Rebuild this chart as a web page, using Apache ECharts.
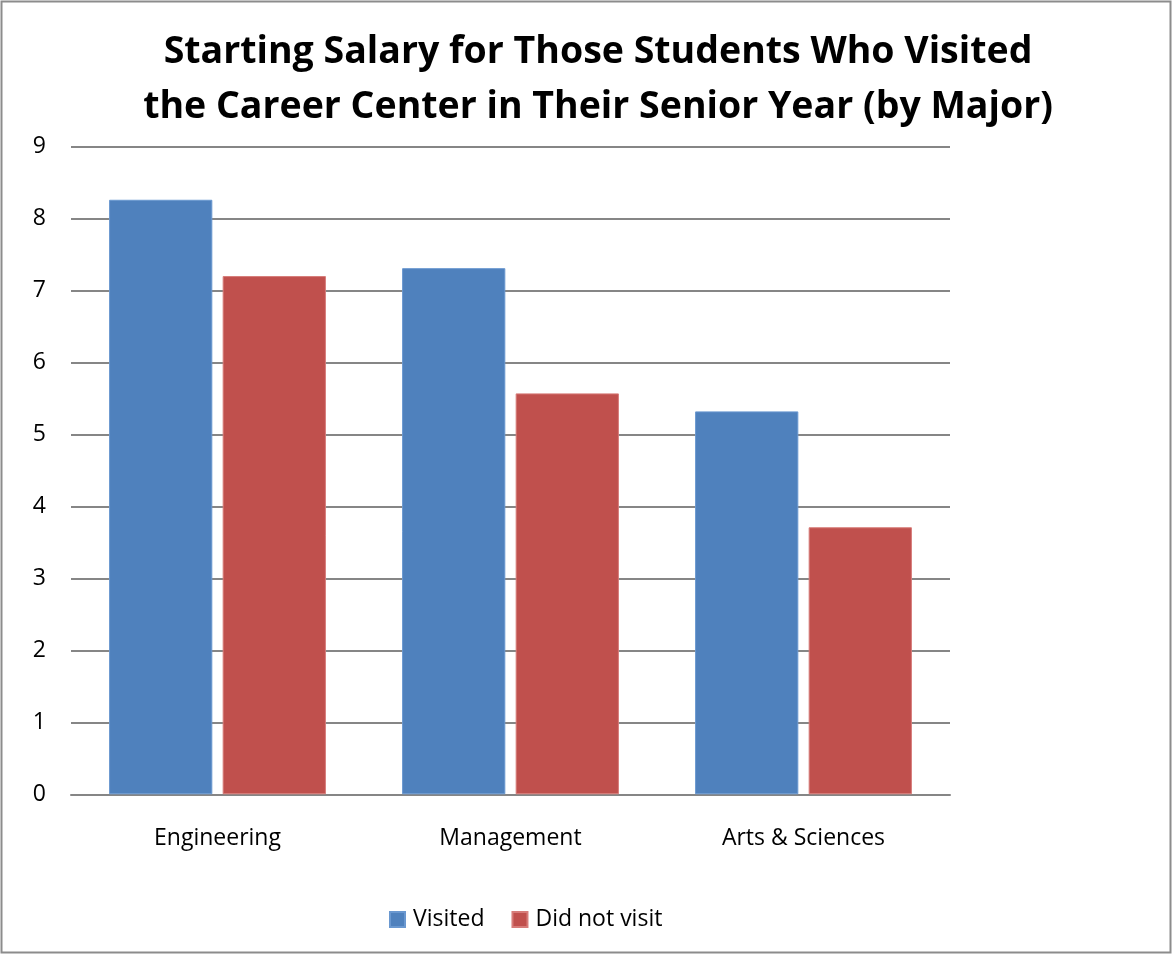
<!DOCTYPE html>
<html><head><meta charset="utf-8">
<script src="https://cdn.jsdelivr.net/npm/echarts@6/dist/echarts.min.js"></script>
<style>html,body{margin:0;padding:0;background:#fff}#c{width:1173px;height:955px}</style>
</head><body><div id="c"></div>
<script>
const categories = ['Engineering', 'Management', 'Arts & Sciences'];
const visited = [8.26, 7.31, 5.32];
const didNotVisit = [7.2, 5.57, 3.71];
const seriesNames = ['Visited', 'Did not visit'];
const FONT = '"Open Sans", "Noto Sans", sans-serif';

const chart = echarts.init(document.getElementById('c'));
chart.setOption({
  backgroundColor: '#fff',
  animation: false,
  title: {
    text: 'Starting Salary for Those Students Who Visited\nthe Career Center in Their Senior Year (by Major)',
    left: 593, top: 20, textAlign: 'center',
    textStyle: { fontFamily: FONT, fontWeight: 'bold', fontSize: 37.5, lineHeight: 55, color: '#000' }
  },
  legend: {
    bottom: 19, left: 384, itemWidth: 15, itemHeight: 15, itemGap: 27,
    icon: 'rect',
    textStyle: { fontFamily: FONT, fontSize: 23, color: '#000', padding: [0, 0, 0, 3] },
    data: seriesNames
  },
  grid: { left: 71, right: 223, top: 146.5, bottom: 160.7, containLabel: false },
  xAxis: {
    type: 'category', data: categories,
    axisLine: { lineStyle: { color: '#868686', width: 2 } },
    axisTick: { show: false },
    axisLabel: { fontFamily: FONT, fontSize: 23, color: '#000', margin: 33 }
  },
  yAxis: {
    type: 'value', min: 0, max: 9, interval: 1,
    axisLine: { show: false }, axisTick: { show: false },
    axisLabel: { fontFamily: FONT, fontSize: 23, color: '#000', margin: 25 },
    splitLine: { lineStyle: { color: '#868686', width: 2 } }
  },
  series: [
    { name: seriesNames[0], type: 'bar', data: visited, barGap: '10%', barCategoryGap: '26%',
      itemStyle: { color: '#4F81BD', borderColor: '#6a98d0', borderWidth: 1 } },
    { name: seriesNames[1], type: 'bar', data: didNotVisit,
      itemStyle: { color: '#C0504D', borderColor: '#d77c79', borderWidth: 1 } }
  ],
  graphic: [{
    type: 'rect', shape: { x: 1.5, y: 1.5, width: 1169, height: 951 },
    style: { fill: 'none', stroke: '#8c8c8c', lineWidth: 2 }, silent: true
  }]
});
</script></body></html>
